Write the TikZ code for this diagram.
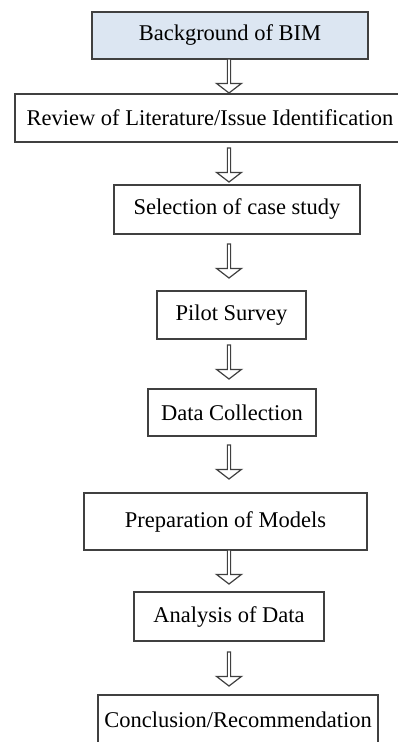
\documentclass[tikz,border=0pt]{standalone}
\usepackage{fontspec}
\setmainfont{Liberation Serif}
\usepackage{tikz}
\usetikzlibrary{positioning, calc, shapes.arrows}
\definecolor{bimblue}{HTML}{DCE6F2}
\definecolor{boxgray}{HTML}{404040}

\begin{document}
\begin{tikzpicture}[
    x=1pt, y=-1pt,
    stepbox/.style={rectangle, draw=boxgray, fill=white, line width=1.3pt, inner sep=0pt, outer sep=0pt,
        minimum height=48pt, align=center, font=\fontsize{22.5}{26}\selectfont},
    flow/.style={single arrow, draw=boxgray, fill=white, line width=1.2pt, inner sep=0pt, outer sep=0pt,
        minimum height=34pt, minimum width=25pt, single arrow head extend=4pt,
        single arrow tip angle=105, shape border rotate=270, anchor=tail}
]
\useasboundingbox (0,0) rectangle (398,742);
\coordinate (axis) at (229,0);

\node[stepbox, fill=bimblue, minimum width=276pt, minimum height=47pt] (bim) at (230,35.5) {Background of BIM};
\node[stepbox, minimum width=390pt, below=35pt of bim, xshift=-20pt] (review) {Review of Literature/Issue Identification};
\node[stepbox, minimum width=246pt, minimum height=49pt, below=43pt of review, xshift=27pt] (select) {Selection of case study};
\node[stepbox, minimum width=149pt, below=57pt of select, xshift=-5.5pt] (pilot) {Pilot Survey};
\node[stepbox, minimum width=168pt, minimum height=47pt, below=50pt of pilot, xshift=0.5pt] (data) {Data Collection};
\node[stepbox, minimum width=283pt, minimum height=57pt, below=57pt of data, xshift=-6.5pt] (models) {Preparation of Models};
\node[stepbox, minimum width=190pt, minimum height=49pt, below=42pt of models, xshift=3.5pt] (analysis) {Analysis of Data};
\node[stepbox, minimum width=280pt, minimum height=49pt, below=54pt of analysis, xshift=9pt] (conclusion) {Conclusion/Recommendation};

\node[flow] (f1) at ($(bim.south -| axis)+(0,0)$) {};
\node[flow] (f2) at ($(review.south -| axis)+(0,6)$) {};
\node[flow] (f3) at ($(select.south -| axis)+(0,10)$) {};
\node[flow] (f4) at ($(pilot.south -| axis)+(0,6)$) {};
\node[flow] (f5) at ($(data.south -| axis)+(0,9)$) {};
\node[flow] (f6) at ($(models.south -| axis)+(0,0)$) {};
\node[flow] (f7) at ($(analysis.south -| axis)+(0,11)$) {};
\end{tikzpicture}
\end{document}
